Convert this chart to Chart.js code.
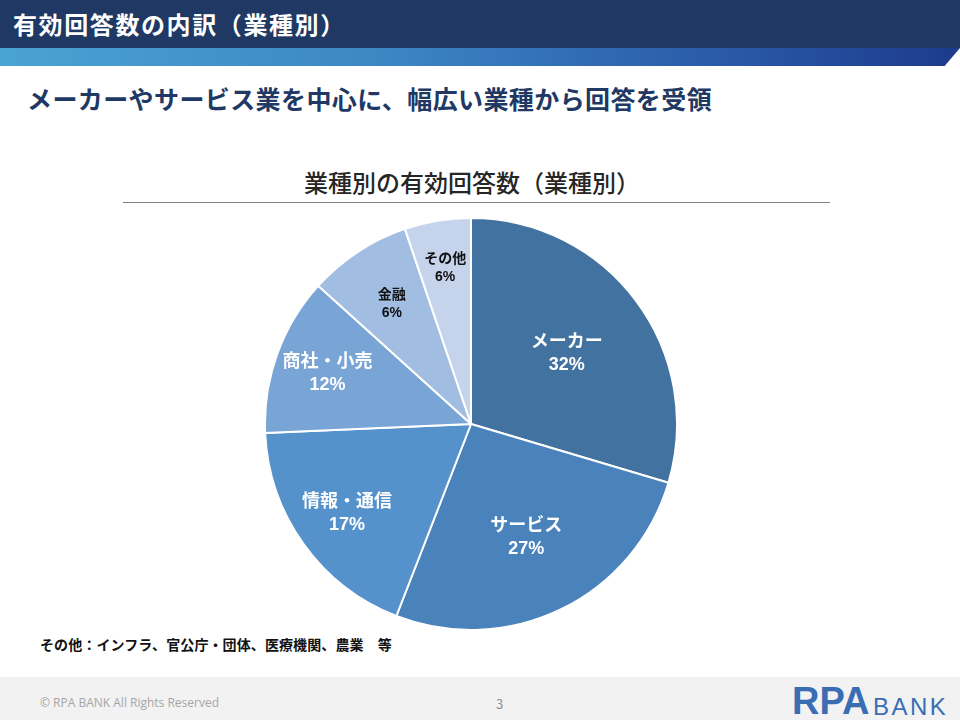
<!DOCTYPE html>
<html lang="ja">
<head>
<meta charset="utf-8">
<script src="https://cdn.jsdelivr.net/npm/chart.js@4.4.1/dist/chart.umd.min.js"></script>
<style>
  html, body { margin: 0; padding: 0; }
  body {
    width: 960px; height: 720px; position: relative; overflow: hidden;
    background: #fff; font-family: "Noto Sans CJK JP", "Noto Sans", sans-serif;
  }
  #head {
    position: absolute; left: 0; top: 0; width: 960px; height: 48px;
    background: #203864; color: #fff; font-size: 24px; font-weight: bold;
    line-height: 48px; padding-left: 13px; box-sizing: border-box; letter-spacing: 1.6px;
  }
  #strip {
    position: absolute; left: 0; top: 48px; width: 960px; height: 18px;
    background: linear-gradient(90deg, #4aa3d2 0%, #3c86c4 40%, #2a5aa8 75%, #1d3a8c 100%);
    clip-path: polygon(0 0, 100% 0, 98.4% 100%, 0 100%);
  }
  #sub {
    position: absolute; left: 27px; top: 80px; font-size: 25px; font-weight: bold;
    color: #203864; letter-spacing: 0.4px; white-space: nowrap;
  }
  #ctitle {
    position: absolute; left: 0; width: 944px; top: 164px; text-align: center;
    font-size: 24px; color: #262626; font-weight: 500; white-space: nowrap;
  }
  #rule {
    position: absolute; left: 123px; top: 202px; width: 707px; height: 0;
    border-top: 1.5px solid #7f7f7f;
  }
  #wrap { position: absolute; left: 264px; top: 217px; width: 414px; height: 414px; }
  #note {
    position: absolute; left: 40px; top: 634px; font-size: 14px; font-weight: bold;
    color: #111; white-space: nowrap; letter-spacing: 0.1px;
  }
  #foot {
    position: absolute; left: 0; top: 677px; width: 960px; height: 43px; background: #f2f2f2;
  }
  #copy {
    position: absolute; left: 40px; top: 694px; font-size: 12px; color: #a6a6a6;
    font-family: "Open Sans", sans-serif;
  }
  #page { position: absolute; left: 496px; top: 694px; font-size: 13px; color: #8c8c8c; }
  #logo1 {
    position: absolute; left: 792px; top: 680px; font-size: 38px; font-weight: bold;
    color: #3a6db3; font-family: "Liberation Sans", sans-serif; letter-spacing: 0px;
  }
  #logo2 {
    position: absolute; left: 873px; top: 693px; font-size: 24px; color: #3a6db3;
    font-family: "Liberation Sans", sans-serif; letter-spacing: 2.5px;
  }
</style>
</head>
<body>
<div id="head">有効回答数の内訳（業種別）</div>
<div id="strip"></div>
<div id="sub">メーカーやサービス業を中心に、幅広い業種から回答を受領</div>
<div id="ctitle">業種別の有効回答数（業種別）</div>
<div id="rule"></div>
<div id="wrap"><canvas id="chart"></canvas></div>
<div id="note">その他：インフラ、官公庁・団体、医療機関、農業　等</div>
<div id="foot"></div>
<div id="copy">© RPA BANK All Rights Reserved</div>
<div id="page">3</div>
<div id="logo1">RPA</div>
<div id="logo2">BANK</div>
<script>
// categories and values
const categories = ["メーカー", "サービス", "情報・通信", "商社・小売", "金融", "その他"];
const shares = [29.6, 26.3, 18.4, 12.4, 8.1, 5.2];
const percentLabels = ["32%", "27%", "17%", "12%", "6%", "6%"];

const sliceColors = ["#42729f", "#4a83bc", "#5592cc", "#79a5d6", "#a1bde1", "#c5d4eb"];

// draws "name / percent" inside each slice
const sliceLabels = {
  id: "sliceLabels",
  afterDatasetsDraw(chart, args, opts) {
    const { ctx } = chart;
    const meta = chart.getDatasetMeta(0);
    meta.data.forEach((arc, i) => {
      const p = arc.getProps(["x", "y", "startAngle", "endAngle", "outerRadius"], true);
      const mid = (p.startAngle + p.endAngle) / 2;
      const r = p.outerRadius * opts.radius[i];
      const x = p.x + Math.cos(mid) * r;
      const y = p.y + Math.sin(mid) * r;
      const small = i >= 4;
      const size = small ? 14 : 18;
      const gap = small ? 19 : 25;
      ctx.save();
      ctx.fillStyle = small ? "#111" : "#fff";
      ctx.font = "bold " + size + "px 'Noto Sans CJK JP', sans-serif";
      ctx.textAlign = "center";
      ctx.textBaseline = "middle";
      ctx.fillText(categories[i], x, y - gap / 2);
      ctx.font = "bold " + size + "px 'Liberation Sans Narrow', 'Liberation Sans', sans-serif";
      ctx.fillText(percentLabels[i], x, y + gap / 2);
      ctx.restore();
    });
  },
};

const ctx = document.getElementById("chart").getContext("2d");
const chart = new Chart(ctx, {
  type: "pie",
  data: {
    labels: categories,
    datasets: [
      {
        data: shares,
        backgroundColor: sliceColors,
        borderColor: "#fff",
        borderWidth: 2,
      },
    ],
  },
  options: {
    responsive: true,
    maintainAspectRatio: false,
    animation: false,
    layout: { padding: 0 },
    plugins: {
      legend: { display: false },
      tooltip: { enabled: false },
      sliceLabels: { radius: [0.58, 0.61, 0.74, 0.74, 0.7, 0.77] },
    },
  },
  plugins: [sliceLabels],
});
</script>
</body>
</html>
